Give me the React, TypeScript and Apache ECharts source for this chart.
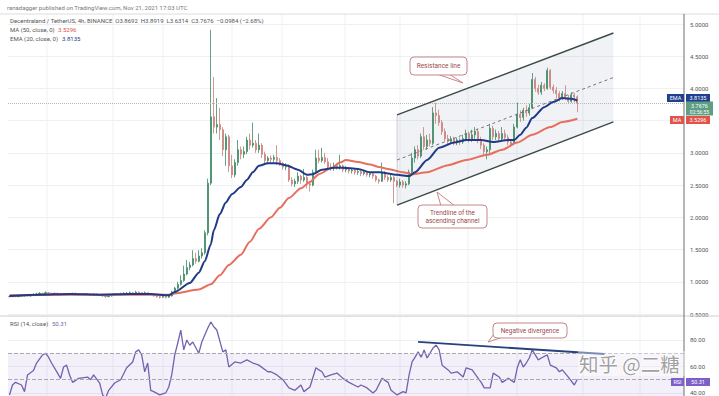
import React, { useEffect, useRef } from "react";
import * as echarts from "echarts";

// ---------- DATA ----------
// candlestick rows: [open, close, low, high]
const flatCandles = [
  [0.77,0.77,0.76,0.78],[0.77,0.78,0.76,0.79],[0.78,0.77,0.76,0.79],[0.77,0.78,0.76,0.79],
  [0.78,0.78,0.77,0.79],[0.78,0.79,0.77,0.80],[0.79,0.78,0.77,0.80],[0.78,0.79,0.77,0.80],
  [0.79,0.80,0.78,0.82],[0.80,0.81,0.79,0.83],[0.81,0.82,0.80,0.84],[0.82,0.81,0.80,0.83],
  [0.81,0.83,0.80,0.85],[0.83,0.82,0.81,0.84],[0.82,0.81,0.80,0.83],[0.81,0.82,0.80,0.83],
  [0.82,0.80,0.79,0.83],[0.80,0.81,0.79,0.82],[0.81,0.81,0.80,0.82],[0.81,0.80,0.79,0.82],
  [0.80,0.81,0.79,0.82],[0.81,0.82,0.80,0.83],[0.82,0.81,0.80,0.83],[0.81,0.81,0.80,0.82],
  [0.81,0.80,0.79,0.82],[0.80,0.81,0.79,0.82],[0.81,0.81,0.80,0.82],[0.81,0.80,0.79,0.82],
  [0.80,0.81,0.79,0.82],[0.81,0.80,0.79,0.82],[0.80,0.79,0.78,0.81],[0.79,0.78,0.77,0.80],
  [0.78,0.77,0.75,0.79],[0.77,0.78,0.76,0.79],[0.78,0.79,0.77,0.80],[0.79,0.80,0.78,0.81],
  [0.80,0.80,0.79,0.81],[0.80,0.81,0.79,0.83],[0.81,0.82,0.80,0.84],[0.82,0.82,0.81,0.84],
  [0.82,0.83,0.81,0.85],[0.83,0.82,0.81,0.84],[0.82,0.84,0.81,0.86],[0.84,0.83,0.82,0.85],
  [0.83,0.82,0.81,0.84],[0.82,0.83,0.81,0.85],[0.83,0.81,0.80,0.84],[0.81,0.80,0.79,0.82],
  [0.80,0.78,0.77,0.81],[0.78,0.77,0.75,0.79],[0.77,0.76,0.74,0.78],[0.76,0.77,0.75,0.78],
  [0.77,0.76,0.74,0.78],[0.76,0.78,0.75,0.79],
];
const rallyCandles = [
  [0.78,0.84,0.77,0.86],[0.84,0.90,0.82,0.92],[0.90,0.96,0.88,1.00],[0.96,1.02,0.94,1.10],
  [1.02,1.12,1.00,1.25],[1.12,1.22,1.10,1.34],[1.22,1.26,1.18,1.31],[1.26,1.36,1.24,1.49],
  [1.36,1.32,1.28,1.45],[1.32,1.40,1.30,1.49],[1.40,1.45,1.36,1.52],[1.45,1.76,1.42,1.80],
  [1.76,2.53,1.72,2.60],[2.53,3.56,2.50,4.91],[3.56,3.40,3.30,4.18],[3.40,3.44,3.30,3.85],
  [3.44,3.36,3.20,3.70],
];
const rangeCandles = [
  [3.36,3.05,2.95,3.40],[3.05,3.25,2.80,3.30],[3.25,2.80,2.70,3.28],[2.80,2.66,2.61,2.97],
  [2.66,2.85,2.62,2.90],[2.85,3.05,2.80,3.20],[3.05,2.98,2.90,3.10],[2.98,3.02,2.92,3.10],
  [3.02,3.20,2.98,3.25],[3.20,3.12,3.05,3.30],[3.12,3.15,3.08,3.47],[3.15,3.05,3.00,3.20],
  [3.05,3.12,3.00,3.30],[3.12,2.98,2.92,3.15],[2.98,2.88,2.82,3.02],[2.88,2.92,2.84,2.95],
  [2.92,2.90,2.85,2.96],[2.90,2.93,2.86,2.97],[2.93,2.88,2.81,3.12],[2.88,2.84,2.80,2.92],
  [2.84,2.78,2.74,2.86],[2.78,2.80,2.73,2.84],[2.80,2.58,2.55,2.82],[2.58,2.52,2.48,2.62],
  [2.52,2.56,2.47,2.60],[2.56,2.64,2.52,2.70],[2.64,2.58,2.52,2.66],[2.58,2.62,2.55,2.75],
  [2.62,2.52,2.45,2.64],[2.52,2.50,2.40,2.56],[2.50,2.70,2.48,2.74],[2.70,2.92,2.68,3.05],
  [2.92,2.88,2.84,3.05],[2.88,2.93,2.85,3.08],[2.93,2.86,2.83,3.00],[2.86,2.78,2.75,2.92],
  [2.78,2.76,2.72,2.84],[2.76,2.80,2.72,2.85],[2.80,2.77,2.74,2.83],[2.77,2.80,2.74,2.97],
  [2.80,2.74,2.70,2.82],[2.74,2.76,2.70,2.80],[2.76,2.72,2.68,2.78],[2.72,2.73,2.68,2.76],
  [2.73,2.70,2.66,2.75],[2.70,2.71,2.66,2.74],[2.71,2.68,2.64,2.73],[2.68,2.70,2.65,2.72],
  [2.70,2.66,2.63,2.71],[2.66,2.68,2.62,2.70],[2.68,2.64,2.60,2.69],[2.64,2.58,2.55,2.66],
  [2.58,2.56,2.52,2.60],[2.56,2.70,2.55,2.85],[2.70,2.62,2.58,2.72],[2.62,2.58,2.55,2.65],
  [2.58,2.62,2.55,2.66],[2.62,2.56,2.22,2.64],[2.56,2.50,2.47,2.58],
];
const channelCandles = [
  [2.50,2.55,2.46,2.60],[2.55,2.50,2.46,2.58],[2.50,2.52,2.45,2.56],[2.52,2.70,2.50,2.74],
  [2.70,2.92,2.68,3.00],[2.92,3.05,2.85,3.10],[3.05,2.95,2.90,3.12],[2.95,3.25,2.92,3.30],
  [3.25,3.10,3.05,3.40],[3.10,3.20,3.05,3.28],[3.20,3.15,3.10,3.30],[3.15,3.62,3.12,3.71],
  [3.62,3.58,3.45,3.78],[3.58,3.47,3.42,3.67],[3.47,3.33,3.28,3.51],[3.33,3.22,3.18,3.38],
  [3.22,3.18,3.12,3.28],[3.18,3.22,3.14,3.26],[3.22,3.16,3.12,3.25],[3.16,3.20,3.12,3.24],
  [3.20,3.17,3.12,3.24],[3.17,3.22,3.14,3.28],[3.22,3.30,3.18,3.36],[3.30,3.20,3.16,3.33],
  [3.20,3.28,3.17,3.36],[3.28,3.33,3.22,3.40],[3.33,3.20,3.15,3.38],[3.20,3.12,3.06,3.25],
  [3.12,3.02,2.96,3.15],[3.02,3.05,2.90,3.10],[3.05,3.38,3.00,3.45],[3.38,3.25,3.20,3.42],
  [3.25,3.30,3.20,3.36],[3.30,3.22,3.18,3.34],[3.22,3.30,3.20,3.40],[3.30,3.24,3.20,3.36],
  [3.24,3.17,3.12,3.28],[3.17,3.14,3.10,3.20],[3.14,3.40,3.12,3.45],[3.40,3.60,3.38,3.78],
  [3.60,3.55,3.48,3.66],[3.55,3.66,3.50,3.70],[3.66,3.62,3.56,3.74],[3.62,3.70,3.58,3.76],
  [3.70,4.14,3.68,4.24],[4.14,4.00,3.95,4.18],[4.00,3.94,3.90,4.06],[3.94,4.05,3.90,4.10],
  [4.05,4.00,3.96,4.08],[4.00,4.28,3.98,4.32],[4.28,4.02,3.98,4.30],[4.02,3.97,3.92,4.06],
  [3.97,3.92,3.85,4.02],[3.92,3.85,3.80,3.96],[3.85,3.92,3.82,3.96],[3.92,3.86,3.82,4.05],
  [3.86,3.80,3.76,3.90],[3.80,3.90,3.78,3.94],[3.90,3.866,3.78,3.93],[3.8692,3.7676,3.6314,3.8919],
];

// EMA(20) and MA(50): [candle index, value]
const emaPoints = [
  [0,0.78],[10,0.80],[20,0.81],[30,0.80],[40,0.81],[47,0.81],[53,0.79],[55,0.84],[60,0.98],
  [63,1.14],[65,1.32],[67,1.58],[68,1.80],[70,2.05],[72,2.23],[74,2.36],[77,2.47],[79,2.58],
  [81,2.70],[83,2.80],[86,2.84],[89,2.84],[92,2.81],[96,2.74],[99,2.66],[101,2.67],[104,2.74],
  [108,2.77],[111,2.77],[116,2.75],[120,2.70],[123,2.70],[129,2.66],[133,2.64],[135,2.70],
  [139,2.89],[143,3.08],[148,3.16],[152,3.20],[157,3.20],[161,3.17],[166,3.20],[168,3.20],
  [170,3.28],[172,3.39],[174,3.54],[178,3.71],[181,3.79],[184,3.85],[187,3.84],[189,3.8135],
];
const maPoints = [
  [0,0.79],[20,0.80],[40,0.80],[53,0.80],[55,0.82],[63,0.88],[67,0.96],[70,1.10],[73,1.26],
  [77,1.42],[80,1.62],[83,1.82],[87,2.00],[90,2.15],[93,2.30],[97,2.45],[100,2.55],[103,2.67],
  [107,2.76],[110,2.85],[112,2.89],[116,2.86],[120,2.82],[123,2.78],[126,2.75],[131,2.70],
  [134,2.67],[139,2.70],[146,2.81],[152,2.89],[159,2.97],[164,3.05],[169,3.16],[174,3.28],
  [180,3.40],[184,3.48],[189,3.5296],
];
// RSI(14): [candle index, value]
const rsiPoints = [
  [0,38.5],[1,46],[2,48],[4,46],[5,41],[6,53.6],[8,57],[9,62.6],[11,68.7],[12,70],[13,67],
  [14,62.6],[16,55],[17,51],[18,59.6],[19,61],[20,53.6],[21,48],[23,51],[26,52],[27,50],
  [28,53.6],[30,47.5],[31,38.5],[32,36.2],[33,42],[35,47.5],[37,50],[39,59],[41,63.4],[42,71],
  [43,72.5],[44,68.7],[45,56],[46,62.6],[47,42],[48,41],[50,38.5],[52,40],[53,44.5],[54,53.6],
  [55,68.7],[56,77.7],[57,87.5],[58,72.5],[59,80],[60,76],[61,78.5],[63,70],[64,78.5],[66,89],
  [67,93.6],[68,90],[69,87.5],[71,71],[72,72.5],[73,59.6],[75,63.4],[77,62.6],[79,65],[81,62.6],
  [83,61],[86,56],[87,56],[89,53.6],[91,50],[93,43.8],[95,42],[97,46],[98,41],[100,44.5],
  [102,59],[103,57.4],[104,56],[105,52],[107,53.6],[109,55],[111,51],[113,48],[116,44.5],
  [117,46],[119,43.8],[121,40],[122,42],[124,51],[126,48],[127,42],[129,38.5],[131,41],[132,40],
  [133,53.6],[134,63.4],[135,67],[136,71],[137,67],[138,72.5],[139,66.4],[141,74],[142,76.2],
  [143,72.5],[144,61],[146,57.4],[147,55],[149,56],[151,52],[152,59],[154,57.4],[156,51],
  [157,48],[158,43.8],[160,43.8],[161,55],[163,52],[164,48],[166,51],[168,48],[169,59],[170,65],
  [171,59.6],[172,62.6],[173,66.4],[174,72.5],[176,65],[177,66.4],[179,68.7],[180,61],[182,59],
  [183,56],[184,57.4],[186,52],[188,46],[189,50.31],
];

// drawings (candle index, price / RSI)
const channelUpper = [[129, 3.59], [201, 4.86]];
const channelMid = [[129, 2.89], [201, 4.17]];
const channelLower = [[129, 2.19], [201, 3.48]];
const divergenceLine = [[136, 78.5], [198, 69.4]];

const priceTicks = { min: 0.5, max: 5.0, step: 0.5 };
const rsiRange = { min: 37.7, max: 98.1 };
const rsiLevels = { upper: 70, middle: 50, lower: 30 };
const lastClose = 3.7676;
const slotCount = 225;

const candles = [...flatCandles, ...rallyCandles, ...rangeCandles, ...channelCandles];
const categories = Array.from({ length: slotCount }, (_, i) => String(i));

const FONT = "Roboto, 'Noto Sans', sans-serif";
const vGridX = [47, 113, 163, 232, 282, 345, 400, 468, 517, 583, 640];

export default function App() {
  const ref = useRef<HTMLDivElement>(null);
  useEffect(() => {
    const chart = echarts.init(ref.current!, undefined, { renderer: "svg" });
    const option: any = {
      animation: false,
      backgroundColor: "#ffffff",
      grid: [
        { left: 8, right: 35, top: 24, bottom: 82 },
        { left: 8, right: 35, top: 316, bottom: 0 },
      ],
      xAxis: [
        { type: "category", data: categories, gridIndex: 0, show: false, boundaryGap: true },
        { type: "category", data: categories, gridIndex: 1, show: false, boundaryGap: true },
      ],
      yAxis: [
        {
          type: "value", gridIndex: 0, position: "right",
          min: priceTicks.min, max: priceTicks.max, interval: priceTicks.step,
          axisLine: { show: false }, axisTick: { show: false },
          axisLabel: { fontSize: 6, color: "#555", margin: 6, fontFamily: FONT,
            formatter: (v: number) => (v === 3.5 ? "" : v.toFixed(4)) },
          splitLine: { lineStyle: { color: "#eef0f4", width: 1 } },
        },
        {
          type: "value", gridIndex: 1, position: "right",
          min: rsiRange.min, max: rsiRange.max, splitNumber: 3,
          axisLine: { show: false }, axisTick: { show: false },
          axisLabel: { fontSize: 6, color: "#555", margin: 6, fontFamily: FONT,
            showMinLabel: false, showMaxLabel: false,
            formatter: (v: number) => (v % 20 === 0 ? v.toFixed(2) : "") },
          splitLine: { lineStyle: { color: "#eef0f4", width: 1 } },
        },
      ],
      series: [
        {
          type: "candlestick", xAxisIndex: 0, yAxisIndex: 0, data: candles, barWidth: 1.8, z: 3,
          itemStyle: { color: "#3f8a67", color0: "#d2918c", borderColor: "#3f8a67", borderColor0: "#c97f7a", borderWidth: 0.8 },
          markLine: {
            silent: true, symbol: ["none", "none"], label: { show: false },
            lineStyle: { color: "#b8b8b8", type: "dotted", width: 1 },
            data: [{ yAxis: lastClose }],
          },
        },
        {
          type: "line", xAxisIndex: 0, yAxisIndex: 0, data: maPoints, smooth: 0.25, smoothMonotone: "x",
          showSymbol: false, z: 4, lineStyle: { color: "#e66f5e", width: 2 },
        },
        {
          type: "line", xAxisIndex: 0, yAxisIndex: 0, data: emaPoints, smooth: 0.25, smoothMonotone: "x",
          showSymbol: false, z: 5, lineStyle: { color: "#1f3a86", width: 2 },
        },
        {
          type: "line", xAxisIndex: 1, yAxisIndex: 1, data: rsiPoints, showSymbol: false, z: 4,
          lineStyle: { color: "#7461b0", width: 1.3 },
          markArea: {
            silent: true, itemStyle: { color: "rgba(126,87,194,0.09)" },
            data: [[{ yAxis: rsiLevels.upper }, { yAxis: rsiLevels.lower }]],
          },
          markLine: {
            silent: true, symbol: ["none", "none"], label: { show: false },
            lineStyle: { color: "#a8a8b0", type: "dashed", width: 1 },
            data: [{ yAxis: rsiLevels.upper }, { yAxis: rsiLevels.middle }],
          },
        },
      ],
    };
    chart.setOption(option);

    const p0 = (pt: number[]) => chart.convertToPixel({ gridIndex: 0 }, pt) as number[];
    const p1 = (pt: number[]) => chart.convertToPixel({ gridIndex: 1 }, pt) as number[];
    const u0 = p0(channelUpper[0]), u1 = p0(channelUpper[1]);
    const l0 = p0(channelLower[0]), l1 = p0(channelLower[1]);
    const m0 = p0(channelMid[0]), m1 = p0(channelMid[1]);
    const d0 = p1(divergenceLine[0]), d1 = p1(divergenceLine[1]);

    const txt = (x: number, y: number, text: string, fill: string, size = 6, align = "left", extra: any = {}) => ({
      type: "text", z: 20, x, y,
      style: { text, fill, fontSize: size, fontFamily: FONT, textAlign: align, textVerticalAlign: "middle", ...extra },
    });
    const tag = (x: number, y: number, w: number, h: number, bg: string, text: string) => [
      { type: "rect", z: 20, shape: { x, y, width: w, height: h }, style: { fill: bg } },
      txt(x + w / 2, y + h / 2, text, "#ffffff", 5.5, "center"),
    ];
    const callout = (x: number, y: number, w: number, h: number, tail: number[][], lines: string[]) => [
      { type: "polygon", z: 21, shape: { points: tail }, style: { fill: "#ffffff", stroke: "#c7868a", lineWidth: 1 } },
      { type: "rect", z: 22, shape: { x, y, width: w, height: h, r: 4 }, style: { fill: "#ffffff", stroke: "#c7868a", lineWidth: 1 } },
      ...lines.map((t, k) => ({
        ...txt(x + w / 2, y + h / 2 + (k - (lines.length - 1) / 2) * 8, t, "#9b4a4e", 6.5, "center"),
        z: 23,
      })),
    ];

    const graphics: any[] = [
      ...vGridX.map((x) => ({ type: "line", z: 0, shape: { x1: x, y1: 14, x2: x, y2: 396 }, style: { stroke: "#eff1f4", lineWidth: 1 } })),
      { type: "polygon", z: 1, shape: { points: [u0, u1, l1, l0] }, style: { fill: "rgba(120,140,160,0.11)" } },
      { type: "line", z: 6, shape: { x1: l0[0], y1: u0[1], x2: l0[0], y2: l0[1] }, style: { stroke: "rgba(90,100,110,0.35)", lineWidth: 0.8 } },
      { type: "line", z: 6, shape: { x1: u0[0], y1: u0[1], x2: u1[0], y2: u1[1] }, style: { stroke: "#3a4a45", lineWidth: 1.4 } },
      { type: "line", z: 6, shape: { x1: l0[0], y1: l0[1], x2: l1[0], y2: l1[1] }, style: { stroke: "#3a4a45", lineWidth: 1.4 } },
      { type: "line", z: 6, shape: { x1: m0[0], y1: m0[1], x2: m1[0], y2: m1[1] }, style: { stroke: "#666", lineWidth: 0.9, lineDash: [3, 3] } },
      { type: "line", z: 6, shape: { x1: d0[0], y1: d0[1], x2: d1[0], y2: d1[1] }, style: { stroke: "#27407e", lineWidth: 1.8 } },
      // frame
      { type: "line", z: 15, shape: { x1: 0, y1: 14, x2: 719, y2: 14 }, style: { stroke: "#dcdcdc", lineWidth: 1 } },
      { type: "line", z: 15, shape: { x1: 0, y1: 316, x2: 719, y2: 316 }, style: { stroke: "#cfcfcf", lineWidth: 1 } },
      { type: "line", z: 15, shape: { x1: 684, y1: 14, x2: 684, y2: 396 }, style: { stroke: "#6f6f6f", lineWidth: 1 } },
      // header & legends
      txt(7, 7, "ranadagger published on TradingView.com, Nov 21, 2021 17:03 UTC", "#777", 6),
      txt(10, 20, "Decentraland / TetherUS, 4h, BINANCE  O3.8692  H3.8919  L3.6314  C3.7676  −0.0984 (−2.68%)", "#555", 6),
      txt(10, 29, "MA (50, close, 0)", "#555", 6),
      txt(58, 29, "3.5296", "#e0524a", 6),
      txt(10, 38, "EMA (20, close, 0)", "#555", 6),
      txt(62, 38, "3.8135", "#1f3a86", 6),
      txt(10, 323, "RSI (14, close)", "#555", 6),
      txt(52, 323, "50.31", "#7461b0", 6),
      // price tags
      ...tag(667, 94, 17, 8, "#1f3f8f", "EMA"),
      ...tag(686, 94, 24, 8, "#1f3f8f", "3.8135"),
      { type: "rect", z: 20, shape: { x: 686, y: 101.5, width: 27, height: 14 }, style: { fill: "#5e9e82" } },
      txt(699.5, 105.5, "3.7676", "#ffffff", 5.5, "center"),
      txt(699.5, 111.5, "02:56:55", "#ffffff", 5, "center"),
      ...tag(670, 116, 14, 8, "#e0524a", "MA"),
      ...tag(686, 116, 24, 8, "#e0524a", "3.5296"),
      ...tag(671, 378, 13, 8, "#7d5fc9", "RSI"),
      ...tag(686, 378, 24, 8, "#7d5fc9", "50.31"),
      // callouts
      ...callout(410, 57, 57, 18, [[437, 74], [463, 83], [449, 74]], ["Resistance line"]),
      ...callout(418, 205, 69, 23, [[441, 206], [437, 192], [455, 206]], ["Trendline of the", "ascending channel"]),
      ...callout(493, 323, 74, 15, [[494, 334], [488, 342], [503, 337]], ["Negative divergence"]),
      // watermark
      { type: "rect", z: 24, shape: { x: 578, y: 351, width: 110, height: 25 }, style: { fill: "rgba(255,255,255,0.4)" } },
      {
        type: "text", z: 25, x: 579, y: 363,
        style: {
          text: "知乎 @二糖", fill: "rgba(130,130,130,0.75)", fontSize: 19.5,
          fontFamily: "'Noto Sans CJK SC', sans-serif", textAlign: "left", textVerticalAlign: "middle",
          stroke: "rgba(255,255,255,0.9)", lineWidth: 1.5,
        },
      },
    ];
    chart.setOption({ graphic: graphics });
    return () => chart.dispose();
  }, []);
  return <div ref={ref} style={{ position: "fixed", left: 0, top: 0, width: 719, height: 396 }} />;
}
